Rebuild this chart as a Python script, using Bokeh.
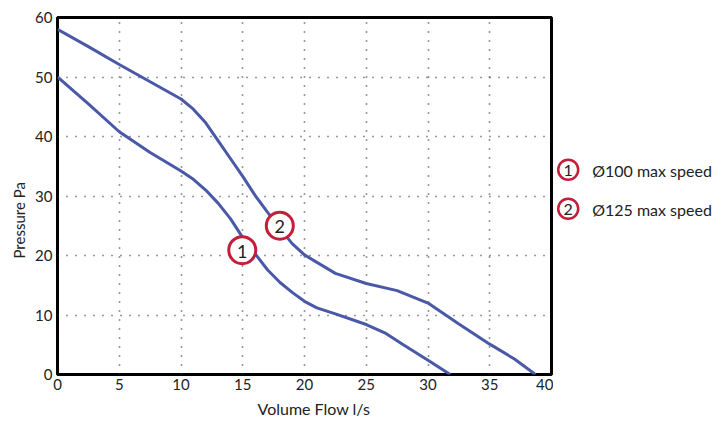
from bokeh.plotting import figure
from bokeh.models import Range1d, FixedTicker, ColumnDataSource, Title
from bokeh.layouts import row
from bokeh.embed import file_html
from bokeh.resources import INLINE
from bokeh.core.properties import value

# ---- data ----
flow_100 = [0, 2.5, 5, 7.5, 10, 11, 12, 13, 14, 15, 16, 17, 18, 19, 20, 21, 22.5, 25, 26.5, 28, 30, 31.8]
pressure_100 = [50, 45.5, 40.8, 37.3, 34.2, 32.8, 31.0, 28.8, 26.2, 23.0, 20.3, 17.6, 15.5, 13.8, 12.3, 11.2, 10.2, 8.4, 7.0, 5.0, 2.4, 0]

flow_125 = [0, 2.5, 5, 7.5, 10, 11, 12, 13, 14, 15, 16, 17, 18, 19, 20, 22.5, 25, 27.5, 30, 32.5, 35, 37, 38.7]
pressure_125 = [58, 55.1, 52.1, 49.2, 46.3, 44.6, 42.3, 39.3, 36.3, 33.3, 30.1, 27.3, 24.6, 22.0, 20.1, 17.0, 15.3, 14.1, 12.0, 8.5, 5.1, 2.6, 0]

marker_labels = ["1", "2"]
marker_x = [14.96, 18.0]
marker_y = [20.9, 25.0]

legend_labels = ["\u00d8100 max speed", "\u00d8125 max speed"]

x_ticks = [0, 5, 10, 15, 20, 25, 30, 35, 40]
y_ticks = [0, 10, 20, 30, 40, 50, 60]

x_title = "Volume Flow l/s"
y_title = "Pressure Pa"

FONT = "Lato"
BLUE = "#4a58a8"
RED = "#c41e3a"
TXT = "#222222"

BL, BR, BT, BB = 57, 2, 17, 50
FRAME_W, FRAME_H = 494, 357
H = BT + FRAME_H + BB
W = BL + FRAME_W + BR

p = figure(width=W, height=H, output_backend="svg", toolbar_location=None,
           x_range=Range1d(0, 40), y_range=Range1d(0, 60),
           min_border_left=BL, min_border_right=BR, min_border_top=BT, min_border_bottom=BB)

p.outline_line_color = "black"
p.outline_line_width = 3
p.background_fill_color = "white"
p.border_fill_color = "white"

for ax in (p.xaxis, p.yaxis):
    ax.axis_line_color = None
    ax.major_tick_line_color = None
    ax.minor_tick_line_color = None
    ax.major_tick_out = 0
    ax.major_tick_in = 0
    ax.minor_tick_out = 0
    ax.major_label_text_font = FONT
    ax.major_label_text_font_size = "15px"
    ax.major_label_text_color = TXT

p.xaxis.ticker = FixedTicker(ticks=x_ticks)
p.yaxis.ticker = FixedTicker(ticks=y_ticks)
p.xaxis.major_label_standoff = 4
p.yaxis.major_label_standoff = 5

p.xgrid.ticker = FixedTicker(ticks=x_ticks)
p.ygrid.ticker = FixedTicker(ticks=y_ticks)
p.grid.grid_line_color = "#333333"
p.grid.grid_line_dash = "1 8"
p.grid.grid_line_width = 1.6

# axis titles, placed slightly off-centre as in the original
p.add_layout(Title(text=x_title, align="left", offset=200, standoff=9,
                   text_font=FONT, text_font_size="16px", text_font_style="normal",
                   text_color=TXT), "below")
p.add_layout(Title(text=y_title, align="left", offset=116, standoff=10,
                   text_font=FONT, text_font_size="15px", text_font_style="normal",
                   text_color=TXT), "left")

p.line(flow_100, pressure_100, line_color=BLUE, line_width=3)
p.line(flow_125, pressure_125, line_color=BLUE, line_width=3)

msrc = ColumnDataSource(dict(x=marker_x, y=marker_y, t=marker_labels))
p.scatter("x", "y", source=msrc, size=27, fill_color="white", line_color=RED, line_width=3)
p.text("x", "y", text="t", source=msrc, text_align="center", text_baseline="middle",
       text_font=value(FONT), text_font_size="18px", text_color=TXT, y_offset=1)

# legend panel: pixel space of its frame (x from its left edge, y from the frame top)
LW = 168
lg = figure(width=LW, height=H, output_backend="svg", toolbar_location=None,
            x_range=Range1d(0, LW), y_range=Range1d(FRAME_H, 0),
            min_border_left=0, min_border_right=0, min_border_top=0, min_border_bottom=0)
lg.axis.visible = False
lg.grid.visible = False
lg.outline_line_color = None
lg.background_fill_color = "white"
lg.border_fill_color = "white"

leg_y = [152.3, 191.3]
leg_cx = [14.7, 14.7]
leg_tx = [38.7, 38.7]
lsrc = ColumnDataSource(dict(cx=leg_cx, tx=leg_tx, y=leg_y, n=marker_labels, t=legend_labels))
lg.scatter("cx", "y", source=lsrc, size=20, fill_color="white", line_color=RED, line_width=2.5)
lg.text("cx", "y", text="n", source=lsrc, text_align="center", text_baseline="middle",
        text_font=value(FONT), text_font_size="16px", text_color=TXT, y_offset=1)
lg.text("tx", "y", text="t", source=lsrc, text_align="left", text_baseline="middle",
        text_font=value(FONT), text_font_size="16px", text_color=TXT, y_offset=1)

layout = row(p, lg, spacing=0)
open("out.html", "w").write(file_html(layout, INLINE))
